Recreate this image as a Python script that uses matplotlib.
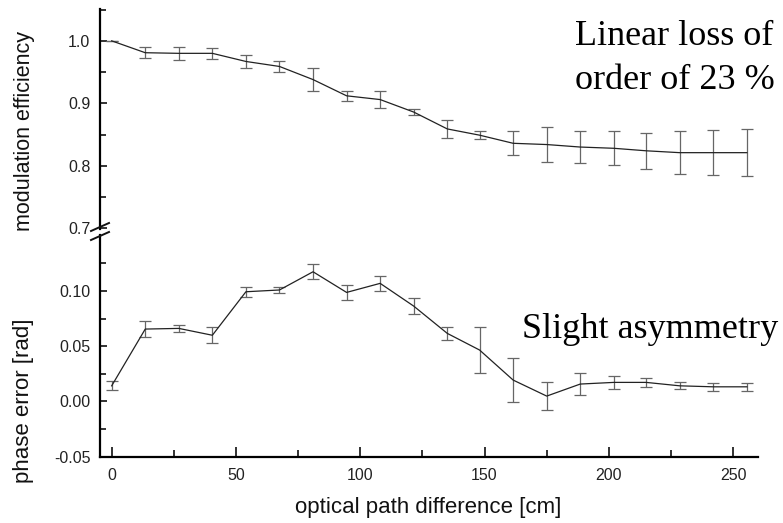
import matplotlib
matplotlib.use("Agg")
import matplotlib.pyplot as plt
from matplotlib.lines import Line2D
from matplotlib.ticker import FixedLocator, MultipleLocator, FormatStrFormatter

plt.rcParams['font.family'] = ['Liberation Sans', 'DejaVu Sans']
plt.rcParams['axes.unicode_minus'] = False

# optical path difference [cm]
opd = [0, 13.5, 27, 40.5, 54, 67.5, 81, 94.5, 108, 121.5,
       135, 148, 161.5, 175, 188.5, 202, 215, 228.5, 242, 255.5]

# modulation efficiency and its error
mod_eff = [1.000, 0.981, 0.980, 0.980, 0.967, 0.959, 0.938, 0.912, 0.906, 0.886,
           0.859, 0.849, 0.836, 0.834, 0.830, 0.828, 0.824, 0.821, 0.821, 0.821]
mod_err = [0.000, 0.009, 0.010, 0.0085, 0.011, 0.009, 0.018, 0.0075, 0.014, 0.005,
           0.015, 0.0065, 0.019, 0.028, 0.026, 0.027, 0.029, 0.034, 0.036, 0.038]

# phase error [rad] and its error
phase = [0.0142, 0.0656, 0.0662, 0.0600, 0.0994, 0.1010, 0.1175, 0.0988, 0.1070, 0.0864,
         0.0617, 0.0466, 0.0194, 0.0049, 0.0158, 0.0173, 0.0173, 0.0142, 0.0133, 0.0133]
phase_err = [0.004, 0.007, 0.003, 0.0072, 0.0045, 0.0023, 0.0066, 0.0066, 0.007, 0.0075,
             0.0057, 0.021, 0.0196, 0.013, 0.010, 0.006, 0.0038, 0.0033, 0.0038, 0.0036]

W, H = 783, 523
fig = plt.figure(figsize=(W / 100, H / 100), dpi=100)

def fx(px):
    return px / W

def fy(py):
    return 1 - py / H

left, right = fx(100), fx(758)
ax_top = fig.add_axes([left, fy(229), right - left, fy(9.3) - fy(229)])
ax_bot = fig.add_axes([left, fy(456.7), right - left, fy(235) - fy(456.7)])

line_c = '#222222'
err_c = '#666666'
spine_w = 1.6

for ax, y, e in [(ax_top, mod_eff, mod_err), (ax_bot, phase, phase_err)]:
    ax.errorbar(opd, y, yerr=e, color=line_c, lw=0.9, ecolor=err_c,
                elinewidth=0.9, capsize=4, capthick=0.9)
    ax.set_xlim(-4.7, 260)
    ax.spines['top'].set_visible(False)
    ax.spines['right'].set_visible(False)
    ax.spines['left'].set_linewidth(spine_w)
    ax.spines['bottom'].set_linewidth(spine_w)
    ax.tick_params(axis='both', which='both', direction='in', colors='#222222',
                   labelsize=11.5, width=1.3, pad=7)
    ax.tick_params(which='major', length=5)
    ax.tick_params(which='minor', length=4)

# upper part: modulation efficiency
ax_top.set_ylim(0.6988, 1.0505)
ax_top.spines['bottom'].set_visible(False)
ax_top.set_xticks([])
ax_top.yaxis.set_major_locator(FixedLocator([0.7, 0.8, 0.9, 1.0]))
ax_top.yaxis.set_minor_locator(FixedLocator([0.75, 0.85, 0.95, 1.05]))
ax_top.yaxis.set_major_formatter(FormatStrFormatter('%.1f'))

# lower part: phase error
ax_bot.set_ylim(-0.05, 0.1508)
ax_bot.yaxis.set_major_locator(FixedLocator([-0.05, 0.0, 0.05, 0.10]))
ax_bot.yaxis.set_minor_locator(FixedLocator([-0.025, 0.025, 0.075, 0.125]))
ax_bot.yaxis.set_major_formatter(FormatStrFormatter('%.2f'))
ax_bot.xaxis.set_major_locator(MultipleLocator(50))
ax_bot.xaxis.set_minor_locator(MultipleLocator(25))
ax_bot.tick_params(axis='x', which='major', length=7, pad=8)
ax_bot.tick_params(axis='x', which='minor', length=5)

# axis break marks on the y axis
for yc in (227, 236):
    fig.add_artist(Line2D([fx(91), fx(109)], [fy(yc + 4), fy(yc - 4)],
                          color='#111111', lw=1.4))

fig.text(fx(25), fy(131), 'modulation efficiency', rotation=90,
         ha='center', va='center', fontsize=15.5, color='#111111')
fig.text(fx(24), fy(401), 'phase error [rad]', rotation=90,
         ha='center', va='center', fontsize=16, color='#111111')
fig.text(fx(428), fy(507), 'optical path difference [cm]',
         ha='center', va='center', fontsize=16, color='#111111')

serif = ['Liberation Serif', 'DejaVu Serif']
fig.text(fx(575), fy(45), 'Linear loss of', family=serif, fontsize=26,
         ha='left', va='baseline')
fig.text(fx(575), fy(89), 'order of 23 %', family=serif, fontsize=26,
         ha='left', va='baseline')
fig.text(fx(521.7), fy(338.3), 'Slight asymmetry', family=serif, fontsize=26,
         ha='left', va='baseline')

fig.savefig('out.png', dpi=100)
